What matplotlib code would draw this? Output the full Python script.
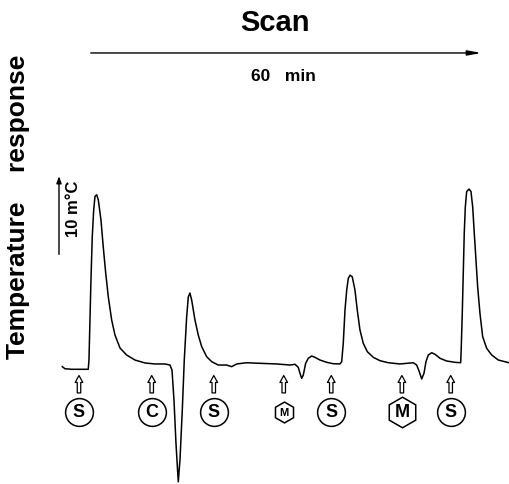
import matplotlib.pyplot as plt

# trace: time (min) vs temperature response (m°C)
time_min = [0.05, 0.45, 1.47, 3.98, 4.09, 4.24, 4.39, 4.59, 4.80, 5.0, 5.26, 5.50,
            5.91, 6.26, 6.62, 7.02, 7.53, 8.03, 8.79, 9.80, 11.06, 12.58, 14.09, 15.61,
            16.36, 16.67, 16.97, 17.27, 17.62, 17.88, 18.23, 18.53, 18.89, 19.14, 19.39,
            19.65, 20.15, 20.65, 21.17, 21.92, 22.68, 23.68, 24.95, 25.71, 26.47, 27.98,
            30.0, 32.53, 34.55, 35.30, 35.80, 36.06, 36.32, 36.56, 36.92, 37.32, 37.83,
            38.33, 39.09, 40.11, 41.11, 42.12, 42.38, 42.62, 42.88, 43.14, 43.38, 43.64,
            43.98, 44.39, 44.74, 45.15, 45.65, 46.26, 47.17, 48.18, 49.44, 51.21, 53.23,
            53.74, 54.14, 54.50, 54.85, 55.15, 55.50, 56.02, 56.52, 57.27, 58.29, 59.55,
            60.41, 60.50, 60.65, 60.80, 60.95, 61.11, 61.32, 61.67, 61.97, 62.23, 62.47,
            62.73, 62.98, 63.33, 63.74, 64.35, 65.11, 66.11, 67.73]
temp_mC = [0.04, -0.21, -0.28, -0.28, 0.85, 5.73, 10.6, 15.9, 19.1, 20.8, 21.0, 20.4,
           17.9, 14.6, 11.5, 8.54, 5.73, 3.90, 2.32, 1.46, 0.85, 0.49, 0.37, 0.37,
           0.24, -0.37, -4.02, -9.27, -14.0, -11.3, -5.24, 0.85, 6.10, 8.54, 9.02,
           8.17, 5.73, 3.90, 2.48, 1.26, 0.65, 0.24, 0.24, 0.04, 0.37, 0.52,
           0.45, 0.37, 0.24, 0.33, -0.04, -0.77, -1.38, -0.98, 0.45, 1.06, 1.34,
           1.18, 0.85, 0.57, 0.40, 0.37, 0.65, 2.89, 6.95, 9.39, 10.8, 11.2,
           11.0, 9.39, 6.95, 4.51, 2.89, 1.87, 1.18, 0.77, 0.52, 0.37, 0.52,
           0.24, -0.57, -1.46, -0.77, 0.65, 1.46, 1.74, 1.55, 1.06, 0.73, 0.57,
           0.52, 2.48, 6.55, 11.4, 16.3, 19.5, 21.4, 21.7, 21.4, 19.5, 16.3,
           13.0, 9.79, 6.55, 3.70, 2.28, 1.46, 0.85, 0.52]

# injections: time and substance
inject_time = [2.58, 13.6, 23.0, 33.6, 40.8, 51.5, 58.9]
inject_label = ['S', 'C', 'S', 'M', 'S', 'M', 'S']
inject_shape = ['o', 'o', 'o', 'h', 'o', 'h', 'o']
inject_size = [20, 20, 20, 15, 20, 22, 20]
label_size = [13, 13, 13, 8, 13, 13, 13]

scan_minutes = 60
scale_mC = 10

plt.rcParams['font.family'] = ['Liberation Sans', 'DejaVu Sans']

fig = plt.figure(figsize=(5.09, 4.84), dpi=100)
ax = fig.add_axes([0, 0, 1, 1])
ax.set_xlim(-9.39, 67.73)
ax.set_ylim(-14.27, 44.76)
ax.axis('off')

ax.plot(time_min, temp_mC, color='black', lw=1.1, solid_joinstyle='round')

# injection arrows and symbols
for t, lab, shp, ms, fs in zip(inject_time, inject_label, inject_shape, inject_size, label_size):
    ax.annotate('', xy=(t, -0.7), xytext=(t, -3.5),
                arrowprops=dict(arrowstyle='simple,head_width=0.55,head_length=0.5,tail_width=0.25',
                                fc='white', ec='black', lw=0.9))
    ax.plot(t, -5.5, marker=shp, ms=ms, mfc='white', mec='black', mew=1.1)
    ax.text(t, -5.55, lab, ha='center', va='center', fontsize=fs, fontweight='bold')

# scale bar
ax.annotate('', xy=(-0.45, 23.6), xytext=(-0.45, 13.4),
            arrowprops=dict(arrowstyle='-|>,head_width=0.15,head_length=0.4', color='black', lw=1.0))
ax.text(1.75, 19.3, '%d m°C' % scale_mC, rotation=90, ha='center', va='center',
        fontsize=12, fontweight='bold')

# scan arrow
ax.annotate('', xy=(3.94 + scan_minutes, 38.3), xytext=(3.94, 38.3),
            arrowprops=dict(arrowstyle='-|>,head_width=0.15,head_length=0.8', color='black', lw=1.0))
ax.text(32.3, 41.9, 'Scan', ha='center', va='center', fontsize=21, fontweight='bold')
ax.text(33.6, 35.4, '%d   min' % scan_minutes, ha='center', va='center', fontsize=12.5,
        fontweight='bold')

ax.text(-6.6, 19.5, 'Temperature    response', rotation=90, ha='center', va='center',
        fontsize=19, fontweight='bold')

fig.savefig('out.png', dpi=100)
